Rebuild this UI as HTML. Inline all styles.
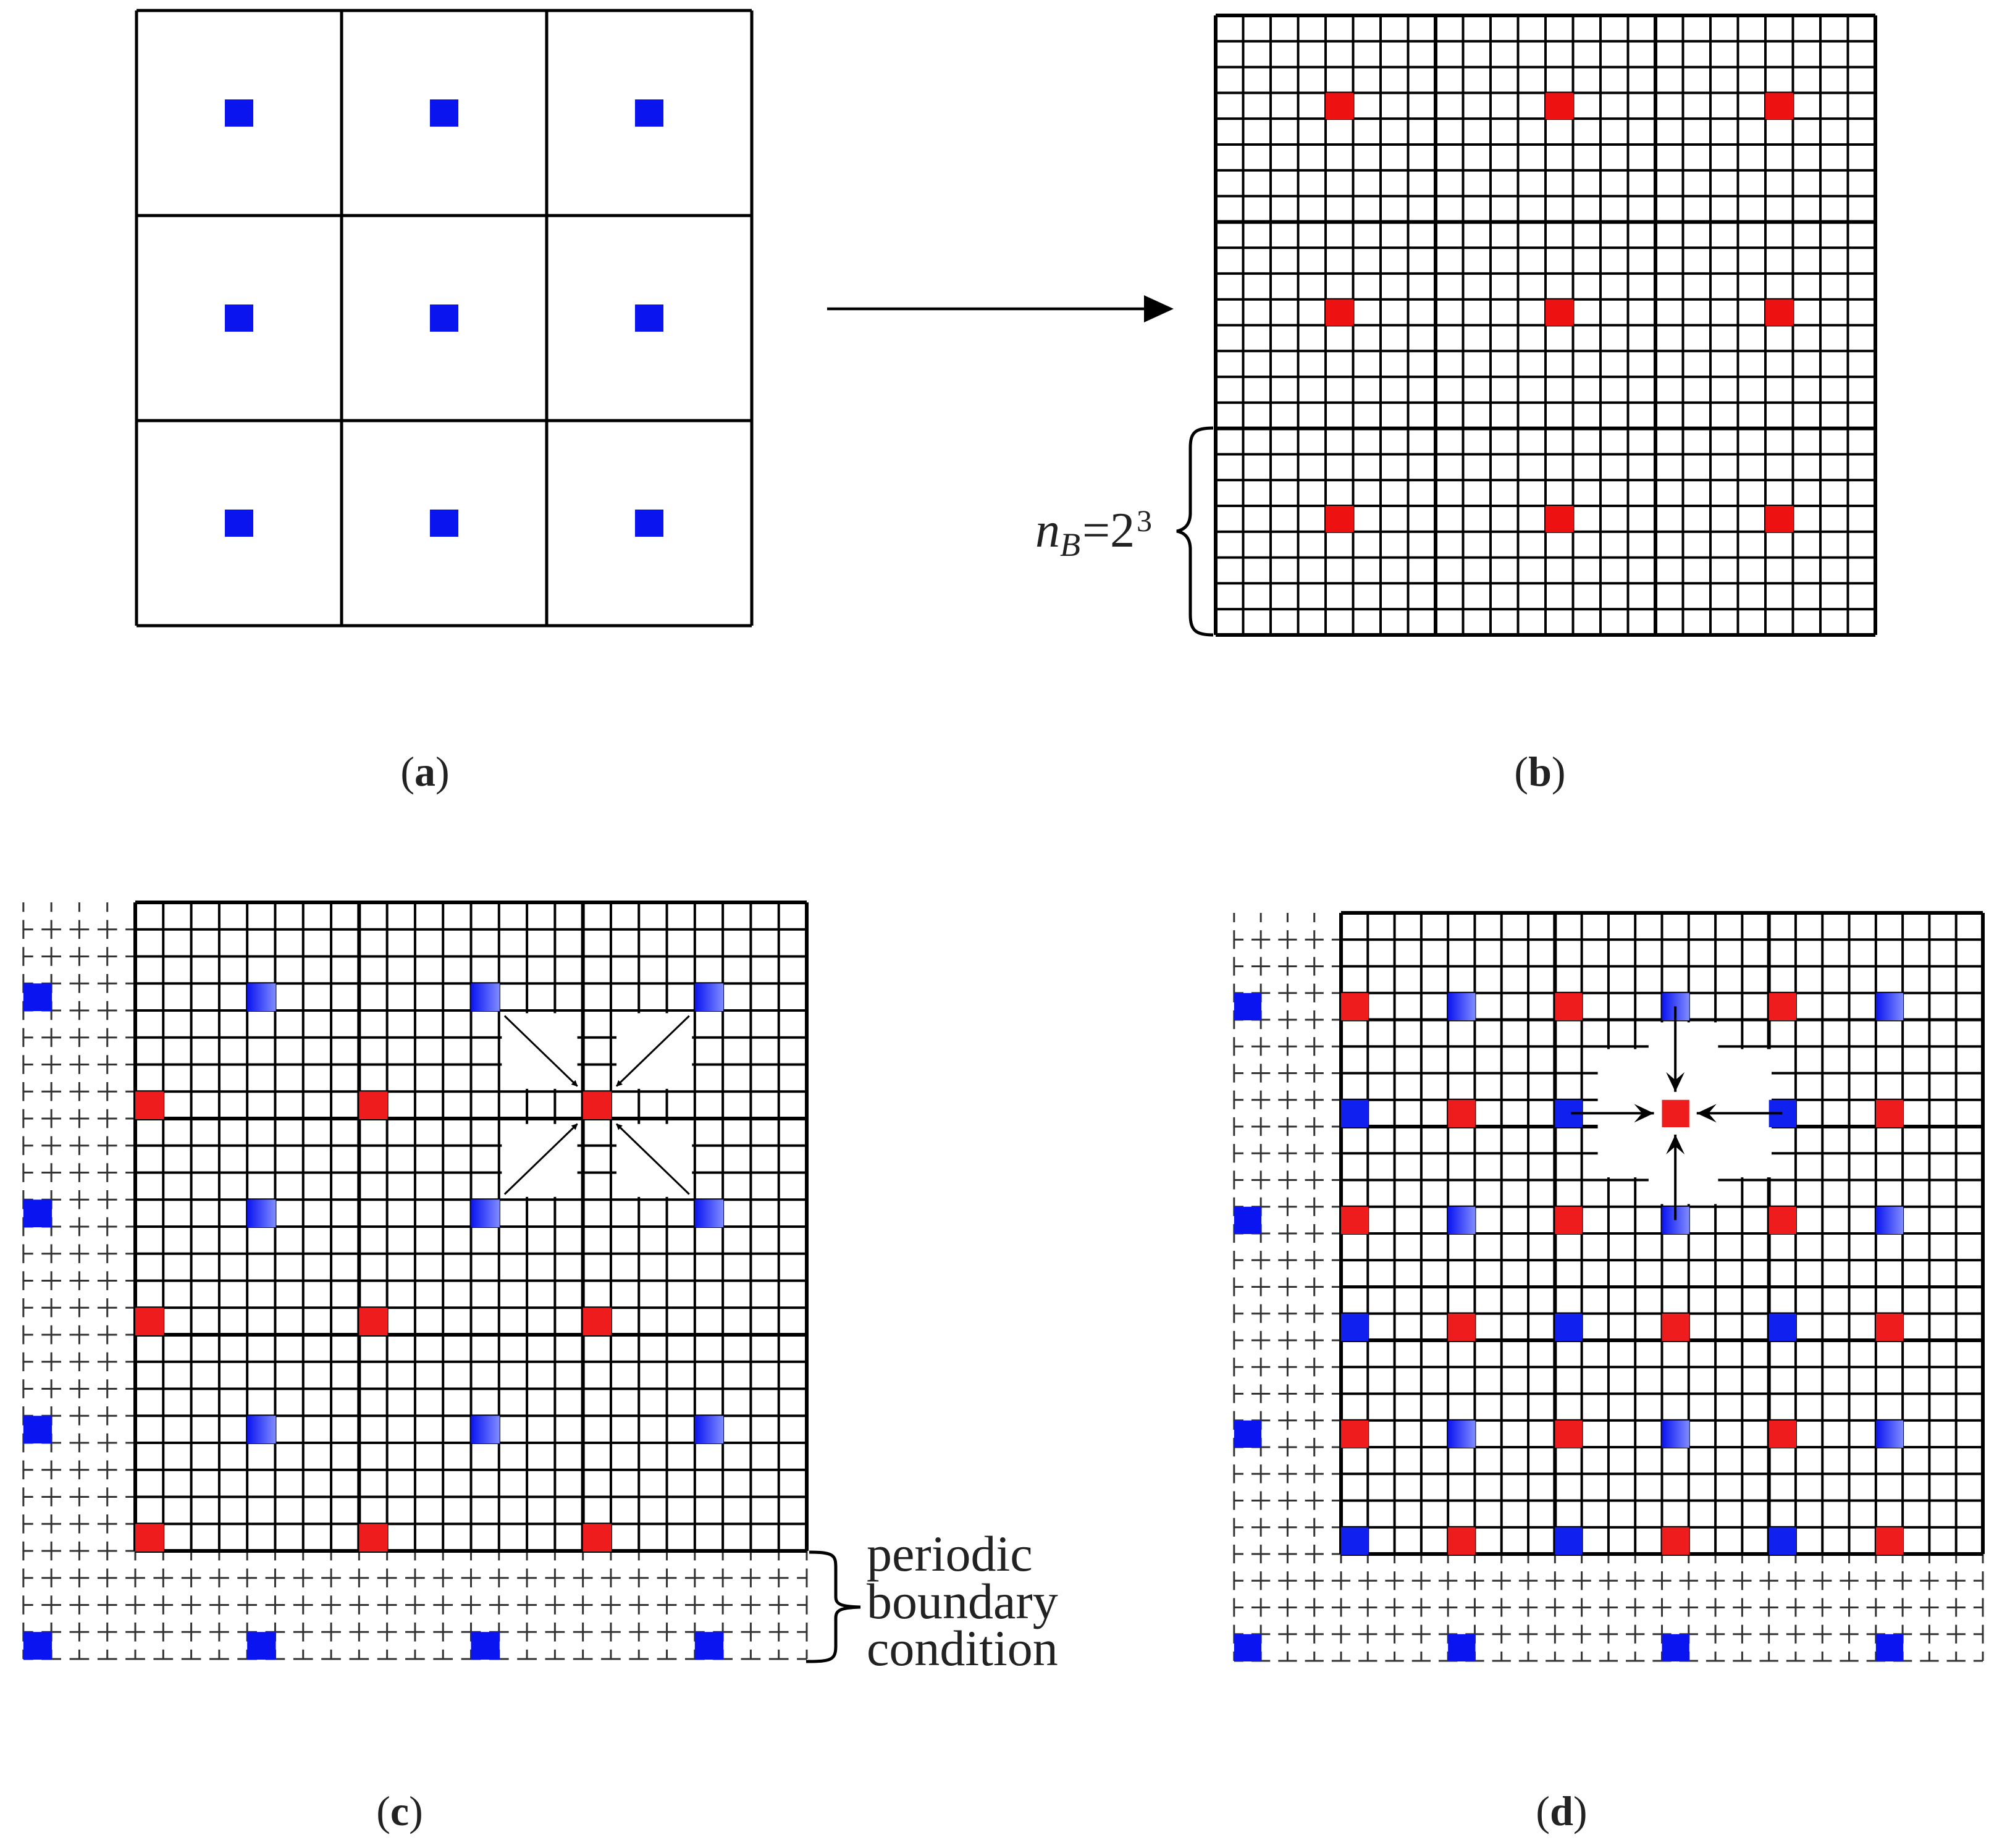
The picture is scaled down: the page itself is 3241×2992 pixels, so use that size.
<!DOCTYPE html>
<html><head><meta charset="utf-8">
<style>html,body{margin:0;padding:0;background:#fff}svg{display:block}.t{font-family:"Liberation Serif","DejaVu Serif","Times New Roman",serif;fill:#222}</style>
</head><body>
<svg id="s" xmlns="http://www.w3.org/2000/svg" width="3241" height="2992" viewBox="0 0 3241 2992">
<defs>
<linearGradient id="bg" x1="0" x2="1" y1="0" y2="0"><stop offset="0" stop-color="#0a14f0"/><stop offset="1" stop-color="#7f8cff"/></linearGradient>
<marker id="ah" markerWidth="10" markerHeight="10" refX="9" refY="5" orient="auto" markerUnits="userSpaceOnUse" viewBox="0 0 10 10"><path d="M0,0 L10,5 L0,10 z" fill="#000"/></marker>
</defs>
<g id="g"></g>
<g class="t">
<text x="688" y="1272" font-size="68" text-anchor="middle">(<tspan font-weight="bold">a</tspan>)</text>
<text x="2493" y="1272" font-size="68" text-anchor="middle">(<tspan font-weight="bold">b</tspan>)</text>
<text x="647" y="2955" font-size="68" text-anchor="middle">(<tspan font-weight="bold">c</tspan>)</text>
<text x="2528" y="2955" font-size="68" text-anchor="middle">(<tspan font-weight="bold">d</tspan>)</text>
<text x="1676" y="885" font-size="80" font-style="italic">n</text>
<text x="1716" y="900" font-size="54" font-style="italic">B</text>
<text x="1752" y="885" font-size="80">=2</text>
<text x="1840" y="860" font-size="50">3</text>
<text x="1403" y="2543" font-size="82">periodic</text>
<text x="1403" y="2620" font-size="82">boundary</text>
<text x="1403" y="2696" font-size="82">condition</text>
</g>
</svg>
<script>
var NS="http://www.w3.org/2000/svg",G=document.getElementById('g');
function el(t,a){var e=document.createElementNS(NS,t);for(var k in a)e.setAttribute(k,a[k]);G.appendChild(e);return e;}
function ln(x1,y1,x2,y2,w,c,extra){var a={x1:x1,y1:y1,x2:x2,y2:y2,stroke:c||'#000','stroke-width':w};if(extra)for(var k in extra)a[k]=extra[k];return el('line',a);}
(function(){var x0=221,y0=17,c=332;
for(var i=0;i<=3;i++){ln(x0+i*c,y0,x0+i*c,y0+3*c,5);ln(x0,y0+i*c,x0+3*c,y0+i*c,5);}
for(var i=0;i<3;i++)for(var j=0;j<3;j++)el('rect',{x:x0+i*c+c/2-23,y:y0+j*c+c/2-22,width:46,height:44,fill:'#0a14ee'});
})();
ln(1339,500,1860,500,4.5);el('path',{d:'M1852,478 L1900,500 L1852,522 z',fill:'#000'});
function grid(x0,y0,cw,ch,n,thin,thick){
 for(var i=0;i<=n;i++){var w=(i%8==0)?thick:thin;ln(x0+i*cw,y0,x0+i*cw,y0+n*ch,w);ln(x0,y0+i*ch,x0+n*cw,y0+i*ch,w);}
}
function sq(x0,y0,cw,ch,i,j,col){el('rect',{x:x0+i*cw,y:y0+j*ch,width:cw+1,height:ch+1,fill:col});}
(function(){var x0=1968,y0=25,cw=(3036-1968)/24,ch=(1028-25)/24;
grid(x0,y0,cw,ch,24,4,6);
for(var a=0;a<3;a++)for(var b=0;b<3;b++)sq(x0,y0,cw,ch,4+8*a,3+8*b,'#ee1111');
el('path',{d:'M1964,693 C1935,693 1927,700 1927,725 L1927,830 C1927,852 1915,858 1905,860 C1915,862 1927,868 1927,890 L1927,995 C1927,1020 1935,1028 1964,1028',fill:'none',stroke:'#000','stroke-width':5});
})();
function ghost(x0,y0,cw,ch){
 var n=24,x1=x0+n*cw,y1=y0+n*ch,C='#333',W=3;
 var da=(0.7*cw)+' '+(0.3*cw),dy=(0.7*ch)+' '+(0.3*ch);
 for(var i=-4;i<0;i++)ln(x0+i*cw,y0,x0+i*cw,y1+4*ch,W,C,{'stroke-dasharray':dy,'stroke-dashoffset':0.35*ch});
 for(var i=0;i<=n;i++)ln(x0+i*cw,y1,x0+i*cw,y1+4*ch,W,C,{'stroke-dasharray':dy,'stroke-dashoffset':0.35*ch});
 for(var j=1;j<=n;j++)ln(x0-4*cw,y0+j*ch,x0,y0+j*ch,W,C,{'stroke-dasharray':da,'stroke-dashoffset':0.35*cw});
 for(var j=n+1;j<=n+4;j++)ln(x0-4*cw,y0+j*ch,x1,y0+j*ch,W,C,{'stroke-dasharray':da,'stroke-dashoffset':0.35*cw});
 for(var j=3;j<24;j+=8)sq(x0,y0,cw,ch,-4,j,'#0a14f0');
 for(var i=-4;i<24;i+=8)sq(x0,y0,cw,ch,i,27,'#0a14f0');
}
(function(){var x0=219,y0=1461,cw=(1306-219)/24,ch=(2511-1461)/24;
ghost(x0,y0,cw,ch);grid(x0,y0,cw,ch,24,4,6);
var W='#fff';
el('rect',{x:x0+13.1*cw,y:y0+4.1*ch,width:2.7*cw,height:2.8*ch,fill:W});
el('rect',{x:x0+17.2*cw,y:y0+4.1*ch,width:2.7*cw,height:2.8*ch,fill:W});
el('rect',{x:x0+13.1*cw,y:y0+8.2*ch,width:2.7*cw,height:2.7*ch,fill:W});
el('rect',{x:x0+17.2*cw,y:y0+8.2*ch,width:2.7*cw,height:2.7*ch,fill:W});
for(var a=0;a<3;a++)for(var b=0;b<3;b++){sq(x0,y0,cw,ch,8*a,7+8*b,'#ee1c1c');sq(x0,y0,cw,ch,4+8*a,3+8*b,'url(#bg)');}
[[13.2,4.2,15.8,6.8],[19.8,4.2,17.2,6.8],[13.2,10.8,15.8,8.2],[19.8,10.8,17.2,8.2]].forEach(function(p){
 ln(x0+p[0]*cw,y0+p[1]*ch,x0+p[2]*cw,y0+p[3]*ch,3,'#000',{'marker-end':'url(#ah)'});});
el('path',{d:'M1310,2513 C1355,2513 1353,2520 1353,2545 L1353,2585 C1353,2597 1360,2601 1393,2602 C1360,2603 1353,2607 1353,2620 L1353,2665 C1353,2688 1345,2690 1305,2690',fill:'none',stroke:'#000','stroke-width':5});
})();
(function(){var x0=2171,y0=1478,cw=(3210-2171)/24,ch=(2516-1478)/24;
ghost(x0,y0,cw,ch);grid(x0,y0,cw,ch,24,4,6);
ln(x0,y0+4*ch,x0+24*cw,y0+4*ch,5);ln(x0,y0+14*ch,x0+24*cw,y0+14*ch,5);
el('rect',{x:x0+11.5*cw,y:y0+4.1*ch,width:2.6*cw,height:6.8*ch,fill:'#fff'});
el('rect',{x:x0+9.6*cw,y:y0+5.1*ch,width:6.5*cw,height:4.8*ch,fill:'#fff'});
for(var a=0;a<3;a++)for(var b=0;b<3;b++){
 var j1=3+8*b,j2=7+8*b;
 sq(x0,y0,cw,ch,8*a,j1,'#ee1c1c');sq(x0,y0,cw,ch,4+8*a,j1,'url(#bg)');
 sq(x0,y0,cw,ch,8*a,j2,'#1020ee');sq(x0,y0,cw,ch,4+8*a,j2,'#ee1c1c');
}
var cx=x0+12.5*cw,cy=y0+7.5*ch;
function arr(x1,y1,x2,y2){ln(x1,y1,x2,y2,4);var ang=Math.atan2(y2-y1,x2-x1),L=32,w=15;
 var bx=x2-L*Math.cos(ang),by=y2-L*Math.sin(ang),nx=-Math.sin(ang)*w,ny=Math.cos(ang)*w;
 el('path',{d:'M'+x2+','+y2+' L'+(bx+nx)+','+(by+ny)+' L'+(x2-0.6*L*Math.cos(ang))+','+(y2-0.6*L*Math.sin(ang))+' L'+(bx-nx)+','+(by-ny)+' z',fill:'#000'});}
arr(cx,y0+3.5*ch,cx,cy-ch*0.8);
arr(cx,y0+11.5*ch,cx,cy+ch*0.8);
arr(x0+8.6*cw,cy,cx-cw*0.8,cy);
arr(x0+16.5*cw,cy,cx+cw*0.8,cy);
})();
</script>
</body></html>
